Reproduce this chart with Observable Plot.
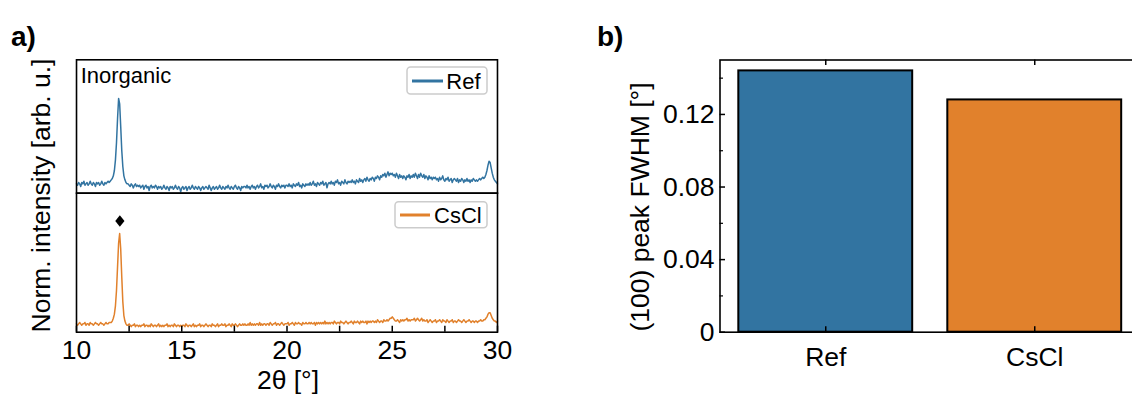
<!DOCTYPE html>
<html>
<head>
<meta charset="utf-8">
<script src="https://cdn.jsdelivr.net/npm/d3@7"></script>
<script src="https://cdn.jsdelivr.net/npm/@observablehq/plot@0.6"></script>
<style>
  body { margin: 0; background: #fff; }
  #fig { position: relative; width: 1132px; height: 394px; overflow: hidden; color: #000;
         font-family: "Liberation Sans", Arial, Helvetica, sans-serif; }
  #fig svg { position: absolute; }
</style>
</head>
<body>
<div id="fig"></div>
<script>
// ---- a) XRD patterns: 2θ sampling (degrees) and normalized intensities (arb. u.) ----
const angleStart = 10;
const angleStep = 0.05;
const refIntensity = [
  7,6,8,7,5,8,7,9,6,7,8,6,7,9,7,6,8,7,5,8,
  7,8,6,7,9,7,6,8,7,8,9,8,
  9,10,11,13,17,25,38,56,71,67,50,32,20,13,10,8,7,
  7,6,5,7,6,4,6,7,5,6,5,
  6,4,5,6,3,5,6,4,5,2,5,6,4,5,4,6,5,3,5,4,
  5,3,4,6,4,3,5,4,2,5,4,5,3,4,6,4,3,5,4,1,
  4,5,3,4,5,2,4,5,3,4,6,4,3,5,4,3,5,4,2,4,
  5,3,4,5,4,3,6,4,2,4,5,3,4,5,3,4,6,4,3,5,
  4,3,5,4,6,4,3,5,4,3,5,6,4,3,5,4,2,5,4,5,
  5,4,6,4,5,3,5,6,4,5,3,5,6,4,5,7,4,5,3,6,
  5,6,4,5,7,5,4,6,5,3,6,5,7,5,4,6,5,6,4,6,
  6,5,7,5,6,4,7,6,5,7,6,8,5,6,4,7,6,5,7,6,
  7,6,8,6,7,9,6,7,5,8,7,6,8,7,9,6,7,8,4,7,
  8,7,9,7,8,6,9,8,10,7,8,6,9,8,7,10,8,7,9,8,
  9,8,10,8,9,7,10,9,8,11,9,10,8,10,11,9,12,10,9,11,
  10,12,11,9,12,11,13,12,10,13,12,14,13,15,12,14,16,13,15,14,
  15,13,14,12,15,13,11,14,12,13,11,13,12,10,13,12,14,11,13,12,
  14,12,15,13,11,14,12,15,13,12,14,11,13,12,10,13,11,12,10,12,
  11,12,10,11,9,12,10,11,13,10,9,11,10,12,9,10,11,8,10,11,
  10,9,11,8,10,9,11,10,8,10,9,11,9,10,8,10,9,11,10,9,
  10,9,10,11,10,11,12,11,12,14,
  17,21,24,23,19,15,12,10,9,8,7
];
const csclIntensity = [
  6,5,6,7,6,5,6,6,7,5,6,6,5,7,6,6,5,6,7,6,
  6,5,6,7,6,6,5,6,7,6,6,7,
  7,7,8,10,13,19,30,47,64,71,60,40,22,12,8,6,5,
  5,6,5,4,5,5,6,4,5,5,4,
  5,4,5,5,6,4,5,5,4,5,4,6,5,4,5,5,4,5,6,4,
  5,4,5,4,5,5,6,4,5,4,5,5,4,6,5,4,5,5,4,5,
  4,5,5,4,6,5,4,5,5,4,5,6,4,5,4,5,5,6,4,5,
  5,4,5,6,5,4,5,5,4,6,5,5,4,5,6,4,5,5,6,5,
  5,6,4,5,5,6,5,4,6,5,5,6,5,4,5,6,5,5,6,5,
  6,5,5,6,5,7,5,6,5,6,5,6,6,5,7,5,6,5,6,6,
  5,6,6,5,7,6,5,6,6,7,5,6,6,5,6,7,6,5,6,6,
  6,7,5,6,6,7,6,5,7,6,6,7,6,6,5,7,6,6,7,6,
  6,7,6,7,6,6,7,5,7,6,7,6,7,6,7,6,8,6,7,6,
  7,6,7,7,6,8,7,6,7,7,6,8,7,7,6,7,8,7,6,7,
  7,8,7,6,8,7,7,8,7,6,8,7,8,7,7,8,6,8,7,8,
  7,8,8,7,8,7,9,8,7,8,8,7,9,8,8,9,8,9,10,10,
  11,10,9,8,8,9,8,7,9,8,9,8,9,9,10,8,9,8,9,9,
  9,10,8,9,10,9,8,9,10,8,9,8,8,9,7,8,9,8,7,8,
  8,9,7,8,8,9,8,7,9,8,8,7,9,8,7,8,8,9,7,8,
  8,7,8,9,8,8,7,8,9,8,7,8,8,9,8,7,8,8,7,8,
  8,7,8,8,9,8,8,9,9,10,
  11,13,14,14,12,10,9,8,8,7,8
];
const angleTicks = [10, 15, 20, 25, 30];
const angleMinorTicks = [10, 12.5, 15, 17.5, 20, 22.5, 25, 27.5, 30];
const peakMarkers = [{angle: 12.06, intensity: 80}];

// ---- b) (100) peak FWHM per sample ----
const samples = ["Ref", "CsCl"];
const fwhm = [0.144, 0.128];
const fwhmTicks = [0, 0.04, 0.08, 0.12];
const fwhmMinorTicks = [0.02, 0.06, 0.10, 0.14];

// ---- styling ----
const font = '"Liberation Sans", Arial, Helvetica, sans-serif';
const palette = ["#3274a1", "#e1812c"];
const colorScale = {domain: samples, range: palette};
const ink = "#000";
const frameWidth = 1.6;
const tickFont = 26.5;
const lineWidth = 1.5;
const svgStyle = {background: "transparent", overflow: "visible", fontFamily: font, color: ink};

const pattern = (values) =>
  values.map((v, i) => ({angle: +(angleStart + i * angleStep).toFixed(2), intensity: v}));
const refData = pattern(refIntensity);
const csclData = pattern(csclIntensity);
const fwhmData = samples.map((s, i) => ({sample: s, fwhm: fwhm[i]}));

const fig = document.getElementById("fig");
function place(svg, left, top) {
  svg.style.left = left + "px";
  svg.style.top = top + "px";
  fig.appendChild(svg);
}

// a) upper pattern: Ref
const topFrame = {t: 59.3, b: 192.7};
const xrdTop = Plot.plot({
  width: 520, height: topFrame.b,
  marginLeft: 76, marginRight: 23, marginTop: topFrame.t, marginBottom: 0,
  x: {domain: [10, 30], axis: null},
  y: {domain: [0, 100], axis: null},
  color: colorScale,
  style: svgStyle,
  marks: [
    Plot.line(refData, {x: "angle", y: "intensity", stroke: () => "Ref", strokeWidth: lineWidth}),
    Plot.frame({stroke: ink, strokeWidth: frameWidth})
  ]
});
place(xrdTop, 0, 0);

// a) lower pattern: CsCl, with the shared 2θ axis
const lowTop = 185;
const lowFrameH = 331.7 - topFrame.b;
const xrdLow = Plot.plot({
  width: 520, height: 394 - lowTop,
  marginLeft: 76, marginRight: 23, marginTop: topFrame.b - lowTop,
  marginBottom: (394 - lowTop) - (331.7 - lowTop),
  x: {domain: [10, 30]},
  y: {domain: [0, 100], axis: null},
  color: colorScale,
  style: svgStyle,
  marks: [
    Plot.line(csclData, {x: "angle", y: "intensity", stroke: () => "CsCl", strokeWidth: lineWidth}),
    Plot.dot(peakMarkers, {
      x: "angle", y: "intensity", r: 5, fill: ink, stroke: null,
      symbol: {draw(ctx, size) {
        const h = Math.sqrt(size) * 0.65, w = h * 0.8;
        ctx.moveTo(0, -h); ctx.lineTo(w, 0); ctx.lineTo(0, h); ctx.lineTo(-w, 0); ctx.closePath();
      }}
    }),
    Plot.ruleX(angleMinorTicks, {x: d => d, insetTop: lowFrameH - 6, stroke: ink, strokeWidth: 1.5}),
    Plot.axisX(angleTicks, {tickSize: 0, tickPadding: 7.8, fontSize: tickFont, label: null, tickFormat: d => String(d)}),
    Plot.frame({stroke: ink, strokeWidth: frameWidth})
  ]
});
place(xrdLow, 0, lowTop);

// b) FWHM bar chart
const bLeft = 600, bWidth = 560;
const bFrame = {l: 719.5, r: 1140, t: 59.5, b: 331.7};
const bFrameH = bFrame.b - bFrame.t;
const bFrameW = bFrame.r - bFrame.l;
const fwhmPlot = Plot.plot({
  width: bWidth, height: 394,
  marginLeft: bFrame.l - bLeft, marginRight: bLeft + bWidth - bFrame.r,
  marginTop: bFrame.t, marginBottom: 394 - bFrame.b,
  x: {domain: samples, paddingInner: 0.168, paddingOuter: 0.09, round: false},
  y: {domain: [0, 0.15]},
  color: colorScale,
  style: svgStyle,
  marks: [
    Plot.barY(fwhmData, {x: "sample", y: "fwhm", fill: "sample", stroke: ink, strokeWidth: 2}),
    Plot.ruleY(fwhmTicks, {y: d => d, insetRight: bFrameW - 5.5, stroke: ink, strokeWidth: 1.5}),
    Plot.ruleY(fwhmMinorTicks, {y: d => d, insetRight: bFrameW - 3.5, stroke: ink, strokeWidth: 1.2}),
    Plot.ruleX(samples, {x: d => d, insetTop: bFrameH - 5.5, stroke: ink, strokeWidth: 1.5}),
    Plot.ruleX(samples, {x: d => d, insetBottom: bFrameH - 5.5, stroke: ink, strokeWidth: 1.5}),
    Plot.axisY(fwhmTicks, {tickSize: 0, tickPadding: 5.5, fontSize: tickFont, label: null,
      tickFormat: d => d === 0 ? "0" : d.toFixed(2)}),
    Plot.axisX({tickSize: 0, tickPadding: 15, fontSize: tickFont, label: null}),
    Plot.frame({stroke: ink, strokeWidth: frameWidth})
  ]
});
place(fwhmPlot, bLeft, 0);

// Panel letters, axis titles, in-axes annotation and legends
const ns = "http://www.w3.org/2000/svg";
const overlay = document.createElementNS(ns, "svg");
overlay.setAttribute("width", 1132);
overlay.setAttribute("height", 394);
overlay.style.left = "0px";
overlay.style.top = "0px";
overlay.style.fontFamily = font;
overlay.innerHTML = `
  <text x="11" y="46" font-size="28" font-weight="bold">a)</text>
  <text x="597" y="46" font-size="28" font-weight="bold">b)</text>
  <text transform="translate(50,195.5) rotate(-90)" text-anchor="middle" font-size="26.5">Norm. intensity [arb. u.]</text>
  <text x="288" y="389" text-anchor="middle" font-size="26.5">2θ [°]</text>
  <text transform="translate(648.5,207) rotate(-90)" text-anchor="middle" font-size="26.5">(100) peak FWHM [°]</text>
  <text x="80.7" y="82.5" font-size="22">Inorganic</text>
  <rect x="407" y="67" width="80" height="27" rx="3.5" fill="#fff" fill-opacity="0.8" stroke="#cccccc" stroke-width="1.5"/>
  <line x1="412" x2="443" y1="81" y2="81" stroke="${palette[0]}" stroke-width="3"/>
  <text x="446.3" y="89.3" font-size="22">${samples[0]}</text>
  <rect x="395" y="201.7" width="92" height="26" rx="3.5" fill="#fff" fill-opacity="0.8" stroke="#cccccc" stroke-width="1.5"/>
  <line x1="400" x2="430" y1="215" y2="215" stroke="${palette[1]}" stroke-width="3"/>
  <text x="434" y="223.3" font-size="22">${samples[1]}</text>
`;
fig.appendChild(overlay);
</script>
</body>
</html>
